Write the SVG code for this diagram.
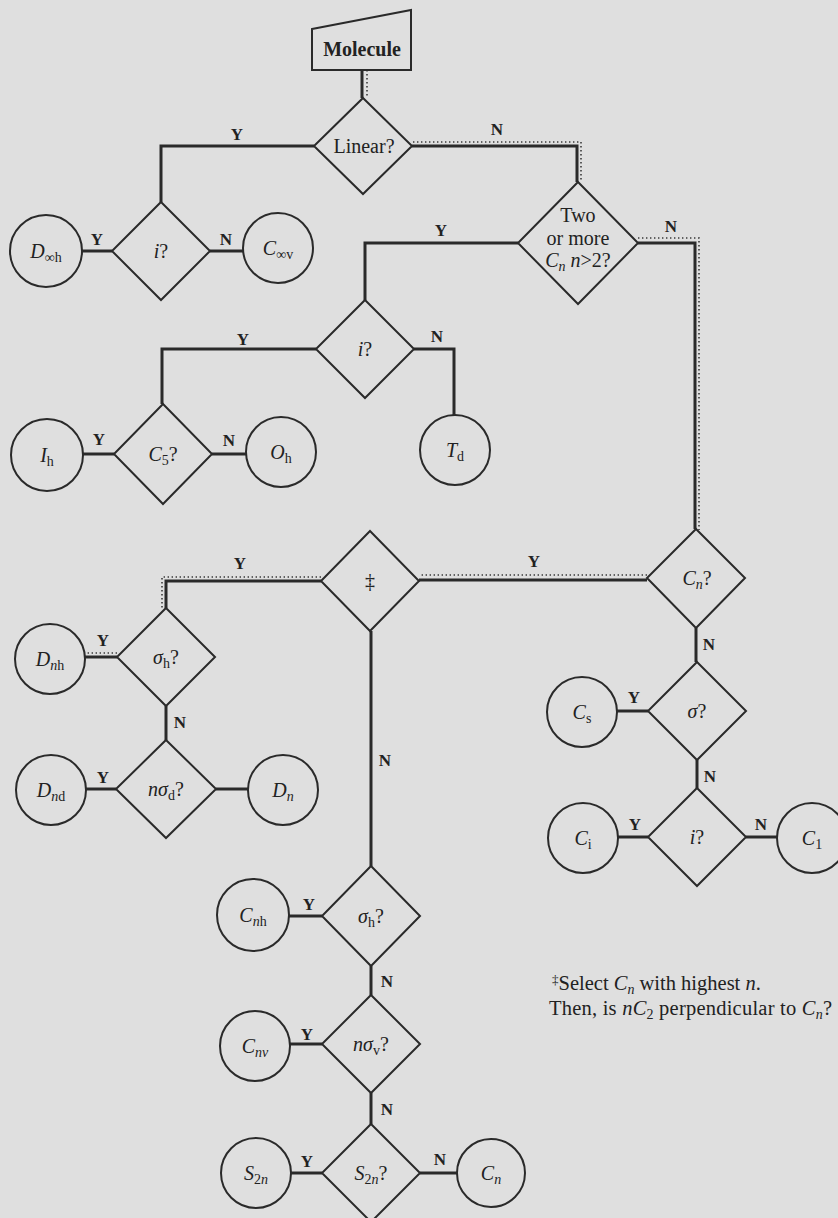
<svg xmlns="http://www.w3.org/2000/svg" width="838" height="1218" viewBox="0 0 838 1218">
<style>
.bg{fill:#dfdfdf}
.shape{fill:none;stroke:#2a2a2a;stroke-width:2}
.con{fill:none;stroke:#2a2a2a;stroke-width:3}
.dot{fill:none;stroke:#3a3a3a;stroke-width:1.6;stroke-dasharray:1.4 2.6}
.t{font-family:"Liberation Serif","Times New Roman",serif;font-size:20px;fill:#222;text-anchor:middle}
.b{font-weight:bold}
.i{font-style:italic}
.s{font-size:14px}
.lbl{font-family:"Liberation Serif","Times New Roman",serif;font-size:17px;font-weight:bold;fill:#222;text-anchor:middle}
.fn{font-family:"Liberation Serif","Times New Roman",serif;font-size:20.5px;fill:#222}
</style>
<rect class="bg" x="0" y="0" width="838" height="1218"/>

<g id="connectors">
<path class="con" d="M362,70 V98"/>
<path class="con" d="M314,146 H161 V202"/>
<path class="con" d="M412,146 H577 V182"/>
<path class="con" d="M112,251 H82"/>
<path class="con" d="M210,251 H243"/>
<path class="con" d="M518,243 H365 V300"/>
<path class="con" d="M638,243 H695 V529"/>
<path class="con" d="M316,349 H162 V404"/>
<path class="con" d="M414,349 H454 V415"/>
<path class="con" d="M114,454 H83"/>
<path class="con" d="M212,454 H246"/>
<path class="con" d="M647,580 H419"/>
<path class="con" d="M321,581 H166 V608"/>
<path class="con" d="M117,657 H85"/>
<path class="con" d="M166,706 V740"/>
<path class="con" d="M116,789 H86"/>
<path class="con" d="M216,789 H248"/>
<path class="con" d="M696,628 V662"/>
<path class="con" d="M648,711 H617"/>
<path class="con" d="M697,760 V788"/>
<path class="con" d="M648,837 H618"/>
<path class="con" d="M746,837 H777"/>
<path class="con" d="M371,631 V866"/>
<path class="con" d="M322,916 H289"/>
<path class="con" d="M371,966 V995"/>
<path class="con" d="M322,1044 H290"/>
<path class="con" d="M371,1093 V1124"/>
<path class="con" d="M322,1173 H291"/>
<path class="con" d="M420,1173 H457"/>
<path class="dot" d="M367,70 V98"/>
<path class="dot" d="M413,142 H581 V182"/>
<path class="dot" d="M638,238 H699 V530"/>
<path class="dot" d="M647,575 H420"/>
<path class="dot" d="M321,577 H162 V608"/>
<path class="dot" d="M117,653 H85"/>
<text class="lbl" x="237" y="140">Y</text>
<text class="lbl" x="497" y="135">N</text>
<text class="lbl" x="97" y="245">Y</text>
<text class="lbl" x="226" y="245">N</text>
<text class="lbl" x="441" y="236">Y</text>
<text class="lbl" x="671" y="232">N</text>
<text class="lbl" x="243" y="345">Y</text>
<text class="lbl" x="437" y="342">N</text>
<text class="lbl" x="99" y="445">Y</text>
<text class="lbl" x="229" y="446">N</text>
<text class="lbl" x="534" y="567">Y</text>
<text class="lbl" x="240" y="569">Y</text>
<text class="lbl" x="103" y="646">Y</text>
<text class="lbl" x="180" y="728">N</text>
<text class="lbl" x="103" y="783">Y</text>
<text class="lbl" x="709" y="650">N</text>
<text class="lbl" x="634" y="703">Y</text>
<text class="lbl" x="710" y="782">N</text>
<text class="lbl" x="635" y="830">Y</text>
<text class="lbl" x="761" y="830">N</text>
<text class="lbl" x="385" y="766">N</text>
<text class="lbl" x="309" y="910">Y</text>
<text class="lbl" x="387" y="987">N</text>
<text class="lbl" x="307" y="1040">Y</text>
<text class="lbl" x="387" y="1115">N</text>
<text class="lbl" x="307" y="1167">Y</text>
<text class="lbl" x="440" y="1165">N</text>
</g>

<g id="molecule">
<polygon class="shape" points="312,29 411,10 411,70 312,70"/>
<text class="t b" x="362" y="56">Molecule</text>
</g>

<g id="q-linear">
<polygon class="shape" points="363,98 412,146 363,194 314,146"/>
<text class="t" x="364" y="153">Linear?</text>
</g>

<g id="q-i-linear">
<polygon class="shape" points="161,202 210,251 161,300 112,251"/>
<text class="t" x="161" y="258"><tspan class="i">i</tspan>?</text>
</g>

<g id="d-inf-h">
<circle class="shape" cx="46" cy="251" r="36"/>
<text class="t" x="46" y="258"><tspan class="i">D</tspan><tspan class="s" dy="4">∞h</tspan></text>
</g>

<g id="c-inf-v">
<circle class="shape" cx="278" cy="248" r="35"/>
<text class="t" x="278" y="255"><tspan class="i">C</tspan><tspan class="s" dy="4">∞v</tspan></text>
</g>

<g id="q-two-or-more">
<polygon class="shape" points="578,182 638,243 578,304 518,243"/>
<text class="t" x="578" y="222">Two</text>
<text class="t" x="578" y="245">or more</text>
<text class="t" x="578" y="267"><tspan class="i">C</tspan><tspan class="s i" dy="4">n</tspan><tspan dy="-4"> </tspan><tspan class="i">n</tspan>&gt;2?</text>
</g>

<g id="q-i-high">
<polygon class="shape" points="365,300 414,349 365,398 316,349"/>
<text class="t" x="365" y="356"><tspan class="i">i</tspan>?</text>
</g>

<g id="t-d">
<circle class="shape" cx="455" cy="450" r="35"/>
<text class="t" x="455" y="457"><tspan class="i">T</tspan><tspan class="s" dy="4">d</tspan></text>
</g>

<g id="q-c5">
<polygon class="shape" points="163,404 212,454 163,504 114,454"/>
<text class="t" x="163" y="461"><tspan class="i">C</tspan><tspan class="s" dy="4">5</tspan><tspan dy="-4">?</tspan></text>
</g>

<g id="i-h">
<circle class="shape" cx="47" cy="455" r="36"/>
<text class="t" x="47" y="462"><tspan class="i">I</tspan><tspan class="s" dy="4">h</tspan></text>
</g>

<g id="o-h">
<circle class="shape" cx="281" cy="452" r="35"/>
<text class="t" x="281" y="459"><tspan class="i">O</tspan><tspan class="s" dy="4">h</tspan></text>
</g>

<g id="q-cn">
<polygon class="shape" points="696,529 745,578 696,628 647,578"/>
<text class="t" x="697" y="585"><tspan class="i">C</tspan><tspan class="s i" dy="4">n</tspan><tspan dy="-4">?</tspan></text>
</g>

<g id="q-dagger">
<polygon class="shape" points="370,531 419,581 370,631 321,581"/>
<text class="t" x="370" y="588">‡</text>
</g>

<g id="q-sigma-h-d">
<polygon class="shape" points="166,608 215,657 166,706 117,657"/>
<text class="t" x="166" y="664"><tspan class="i">σ</tspan><tspan class="s" dy="4">h</tspan><tspan dy="-4">?</tspan></text>
</g>

<g id="d-nh">
<circle class="shape" cx="50" cy="659" r="35"/>
<text class="t" x="50" y="666"><tspan class="i">D</tspan><tspan class="s i" dy="4">n</tspan><tspan class="s">h</tspan></text>
</g>

<g id="q-n-sigma-d">
<polygon class="shape" points="166,740 216,789 166,838 116,789"/>
<text class="t" x="166" y="796"><tspan class="i">nσ</tspan><tspan class="s" dy="4">d</tspan><tspan dy="-4">?</tspan></text>
</g>

<g id="d-nd">
<circle class="shape" cx="51" cy="790" r="35"/>
<text class="t" x="51" y="797"><tspan class="i">D</tspan><tspan class="s i" dy="4">n</tspan><tspan class="s">d</tspan></text>
</g>

<g id="d-n">
<circle class="shape" cx="283" cy="790" r="35"/>
<text class="t" x="283" y="797"><tspan class="i">D</tspan><tspan class="s i" dy="4">n</tspan></text>
</g>

<g id="q-sigma">
<polygon class="shape" points="697,662 746,711 697,760 648,711"/>
<text class="t" x="697" y="718"><tspan class="i">σ</tspan>?</text>
</g>

<g id="c-s">
<circle class="shape" cx="582" cy="712" r="35"/>
<text class="t" x="582" y="719"><tspan class="i">C</tspan><tspan class="s" dy="4">s</tspan></text>
</g>

<g id="q-i-low">
<polygon class="shape" points="697,788 746,837 697,886 648,837"/>
<text class="t" x="697" y="844"><tspan class="i">i</tspan>?</text>
</g>

<g id="c-i">
<circle class="shape" cx="583" cy="838" r="35"/>
<text class="t" x="583" y="845"><tspan class="i">C</tspan><tspan class="s" dy="4">i</tspan></text>
</g>

<g id="c-1">
<circle class="shape" cx="812" cy="838" r="35"/>
<text class="t" x="812" y="845"><tspan class="i">C</tspan><tspan class="s" dy="4">1</tspan></text>
</g>

<g id="q-sigma-h-c">
<polygon class="shape" points="371,866 420,916 371,966 322,916"/>
<text class="t" x="371" y="923"><tspan class="i">σ</tspan><tspan class="s" dy="4">h</tspan><tspan dy="-4">?</tspan></text>
</g>

<g id="c-nh">
<circle class="shape" cx="253" cy="915" r="36"/>
<text class="t" x="253" y="922"><tspan class="i">C</tspan><tspan class="s i" dy="4">n</tspan><tspan class="s">h</tspan></text>
</g>

<g id="q-n-sigma-v">
<polygon class="shape" points="371,995 420,1044 371,1093 322,1044"/>
<text class="t" x="371" y="1051"><tspan class="i">nσ</tspan><tspan class="s" dy="4">v</tspan><tspan dy="-4">?</tspan></text>
</g>

<g id="c-nv">
<circle class="shape" cx="255" cy="1046" r="35"/>
<text class="t" x="255" y="1053"><tspan class="i">C</tspan><tspan class="s i" dy="4">nv</tspan></text>
</g>

<g id="q-s2n">
<polygon class="shape" points="371,1124 420,1173 371,1222 322,1173"/>
<text class="t" x="371" y="1180"><tspan class="i">S</tspan><tspan class="s" dy="4">2</tspan><tspan class="s i">n</tspan><tspan dy="-4">?</tspan></text>
</g>

<g id="s-2n">
<circle class="shape" cx="256" cy="1173" r="35"/>
<text class="t" x="256" y="1180"><tspan class="i">S</tspan><tspan class="s" dy="4">2</tspan><tspan class="s i">n</tspan></text>
</g>

<g id="c-n">
<circle class="shape" cx="491" cy="1173" r="34"/>
<text class="t" x="491" y="1180"><tspan class="i">C</tspan><tspan class="s i" dy="4">n</tspan></text>
</g>

<g id="footnote">
<text class="fn" x="552" y="990"><tspan font-size="13" dy="-6">‡</tspan><tspan dy="6">Select </tspan><tspan class="i">C</tspan><tspan class="s i" dy="4">n</tspan><tspan dy="-4"> with highest </tspan><tspan class="i">n</tspan>.</text>
<text class="fn" x="549" y="1015" textLength="283" lengthAdjust="spacing">Then, is <tspan class="i">nC</tspan><tspan class="s" dy="4">2</tspan><tspan dy="-4"> perpendicular to </tspan><tspan class="i">C</tspan><tspan class="s i" dy="4">n</tspan><tspan dy="-4">?</tspan></text>
</g>
</svg>
